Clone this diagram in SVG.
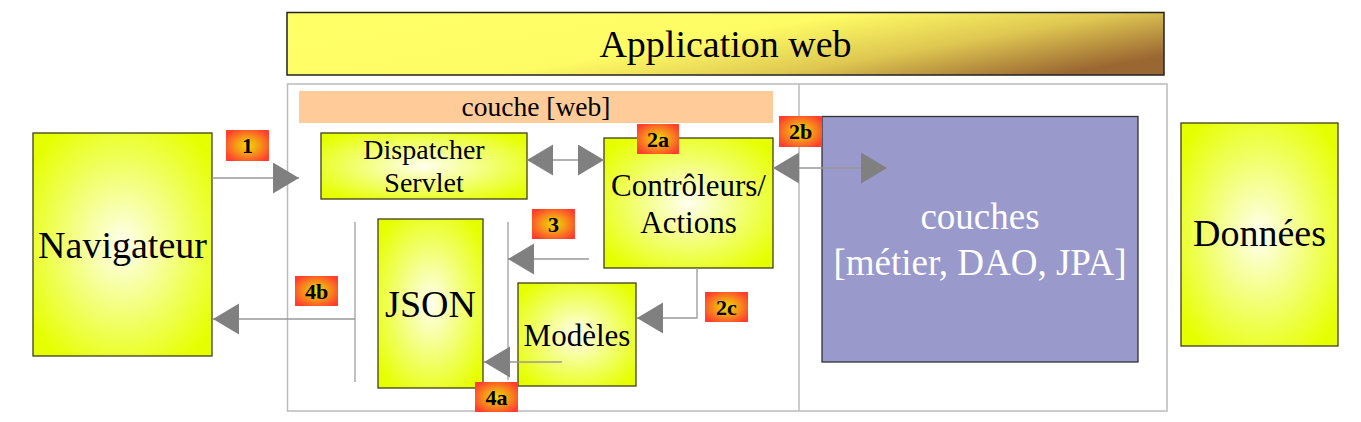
<svg xmlns="http://www.w3.org/2000/svg" width="1361" height="422" viewBox="0 0 1361 422">
<defs>
<linearGradient id="gTitle" x1="0" y1="0.3" x2="1" y2="0.7">
<stop offset="0" stop-color="#ffff66"/>
<stop offset="0.45" stop-color="#fefc65"/>
<stop offset="0.72" stop-color="#dfc852"/>
<stop offset="1" stop-color="#9a6632"/>
</linearGradient>
<radialGradient id="gYel" cx="0.5" cy="0.5" r="0.62">
<stop offset="0" stop-color="#ffffee"/>
<stop offset="0.35" stop-color="#f6ff9a"/>
<stop offset="1" stop-color="#e6ff00"/>
</radialGradient>
<radialGradient id="gBadge" cx="0.5" cy="0.5" r="0.6">
<stop offset="0" stop-color="#eedc00"/>
<stop offset="0.45" stop-color="#f69a18"/>
<stop offset="1" stop-color="#ff3e2e"/>
</radialGradient>
<marker id="ah" markerUnits="userSpaceOnUse" markerWidth="26" markerHeight="32" refX="26" refY="15.5" orient="auto-start-reverse" viewBox="0 0 26 32">
<path d="M0,0 L26,15.5 L0,31 Z" fill="#808080"/>
</marker>
<style>
text{font-family:'Liberation Serif','Tinos','Times New Roman','DejaVu Serif',serif}
.txt{fill:#000;text-anchor:middle}
.wtxt{fill:#ffffff;text-anchor:middle}
.yel{fill:url(#gYel);stroke:#3f3f1a;stroke-width:1.3}
.badge{fill:url(#gBadge);stroke:none}
.btxt{font-weight:bold;font-size:22px;fill:#000;text-anchor:middle}
.conn{fill:none;stroke:#999999;stroke-width:1.3}
.bar{fill:none;stroke:#c0c0c0;stroke-width:2}
</style>
</defs>
<rect width="1361" height="422" fill="#ffffff"/>

<g id="title">
<rect x="287" y="12.5" width="877" height="62.5" fill="url(#gTitle)" stroke="#222" stroke-width="1.5"/>
<text class="txt" x="725.5" y="57" font-size="38" font-family="Liberation Serif, serif">Application web</text>
</g>

<g id="container">
<rect x="287.5" y="84" width="879.5" height="327" fill="none" stroke="#bbbbbb" stroke-width="1.5"/>
<line x1="799" y1="84" x2="799" y2="411" stroke="#bbbbbb" stroke-width="1.5"/>
</g>

<g id="couche-web">
<rect x="299" y="91" width="474" height="32" fill="#ffcc99"/>
<text class="txt" x="536" y="116" font-size="27.5" font-family="Liberation Serif, serif">couche [web]</text>
</g>

<g id="navigateur">
<rect class="yel" x="33" y="133" width="179" height="223"/>
<text class="txt" x="122.5" y="258" font-size="38" font-family="Liberation Serif, serif">Navigateur</text>
</g>

<g id="dispatcher">
<rect class="yel" x="321" y="133" width="206" height="66"/>
<text class="txt" x="424" y="159" font-size="28" font-family="Liberation Serif, serif">Dispatcher</text>
<text class="txt" x="424" y="192" font-size="28" font-family="Liberation Serif, serif">Servlet</text>
</g>

<g id="controleurs">
<rect class="yel" x="604" y="138" width="169" height="130"/>
<text class="txt" x="688.5" y="196" font-size="31" font-family="Liberation Serif, serif">Contrôleurs/</text>
<text class="txt" x="688.5" y="233" font-size="31" font-family="Liberation Serif, serif">Actions</text>
</g>

<g id="json">
<rect class="yel" x="378" y="219" width="105" height="169"/>
<text class="txt" x="430.5" y="317" font-size="38" font-family="Liberation Serif, serif">JSON</text>
</g>

<g id="modeles">
<rect class="yel" x="518" y="283" width="118" height="103"/>
<text class="txt" x="577" y="346" font-size="31" font-family="Liberation Serif, serif">Modèles</text>
</g>

<g id="couches">
<rect x="822" y="116.5" width="316" height="245.5" fill="#9999cc" stroke="#333333" stroke-width="1.3"/>
<text class="wtxt" x="980" y="229" font-size="37" font-family="Liberation Serif, serif">couches</text>
<text class="wtxt" x="980" y="275" font-size="37" font-family="Liberation Serif, serif">[métier, DAO, JPA]</text>
</g>

<g id="donnees">
<rect class="yel" x="1181" y="123" width="157" height="223"/>
<text class="txt" x="1259.5" y="246" font-size="38" font-family="Liberation Serif, serif">Données</text>
</g>

<g id="connectors">
<line class="bar" x1="355" y1="222" x2="355" y2="382"/>
<line class="bar" x1="508" y1="222" x2="508" y2="380"/>
<line class="conn" x1="212" y1="178" x2="299" y2="178" marker-end="url(#ah)"/>
<line class="conn" x1="527" y1="160" x2="604" y2="160" marker-start="url(#ah)" marker-end="url(#ah)"/>
<line class="conn" x1="773" y1="168" x2="887" y2="168" marker-start="url(#ah)" marker-end="url(#ah)"/>
<line class="conn" x1="589" y1="259" x2="508" y2="259" marker-end="url(#ah)"/>
<polyline class="conn" points="697,268 697,318 637,318" marker-end="url(#ah)"/>
<line class="conn" x1="562" y1="362" x2="484" y2="362" marker-end="url(#ah)"/>
<line class="conn" x1="355" y1="319" x2="213" y2="319" marker-end="url(#ah)"/>
</g>

<g id="badges">
<g id="b1"><rect class="badge" x="226" y="130" width="43" height="31"/><text class="btxt" x="247.5" y="153" font-family="Liberation Serif, serif">1</text></g>
<g id="b2a"><rect class="badge" x="637" y="124" width="42" height="30"/><text class="btxt" x="658" y="147" font-family="Liberation Serif, serif">2a</text></g>
<g id="b2b"><rect class="badge" x="779" y="116" width="43" height="31"/><text class="btxt" x="800.5" y="139" font-family="Liberation Serif, serif">2b</text></g>
<g id="b3"><rect class="badge" x="532" y="209" width="43" height="30"/><text class="btxt" x="553.5" y="232" font-family="Liberation Serif, serif">3</text></g>
<g id="b2c"><rect class="badge" x="705" y="292" width="43" height="30"/><text class="btxt" x="726.5" y="315" font-family="Liberation Serif, serif">2c</text></g>
<g id="b4b"><rect class="badge" x="295" y="276" width="43" height="30"/><text class="btxt" x="316.5" y="299" font-family="Liberation Serif, serif">4b</text></g>
<g id="b4a"><rect class="badge" x="475" y="382" width="43" height="30"/><text class="btxt" x="496.5" y="405" font-family="Liberation Serif, serif">4a</text></g>
</g>
</svg>
